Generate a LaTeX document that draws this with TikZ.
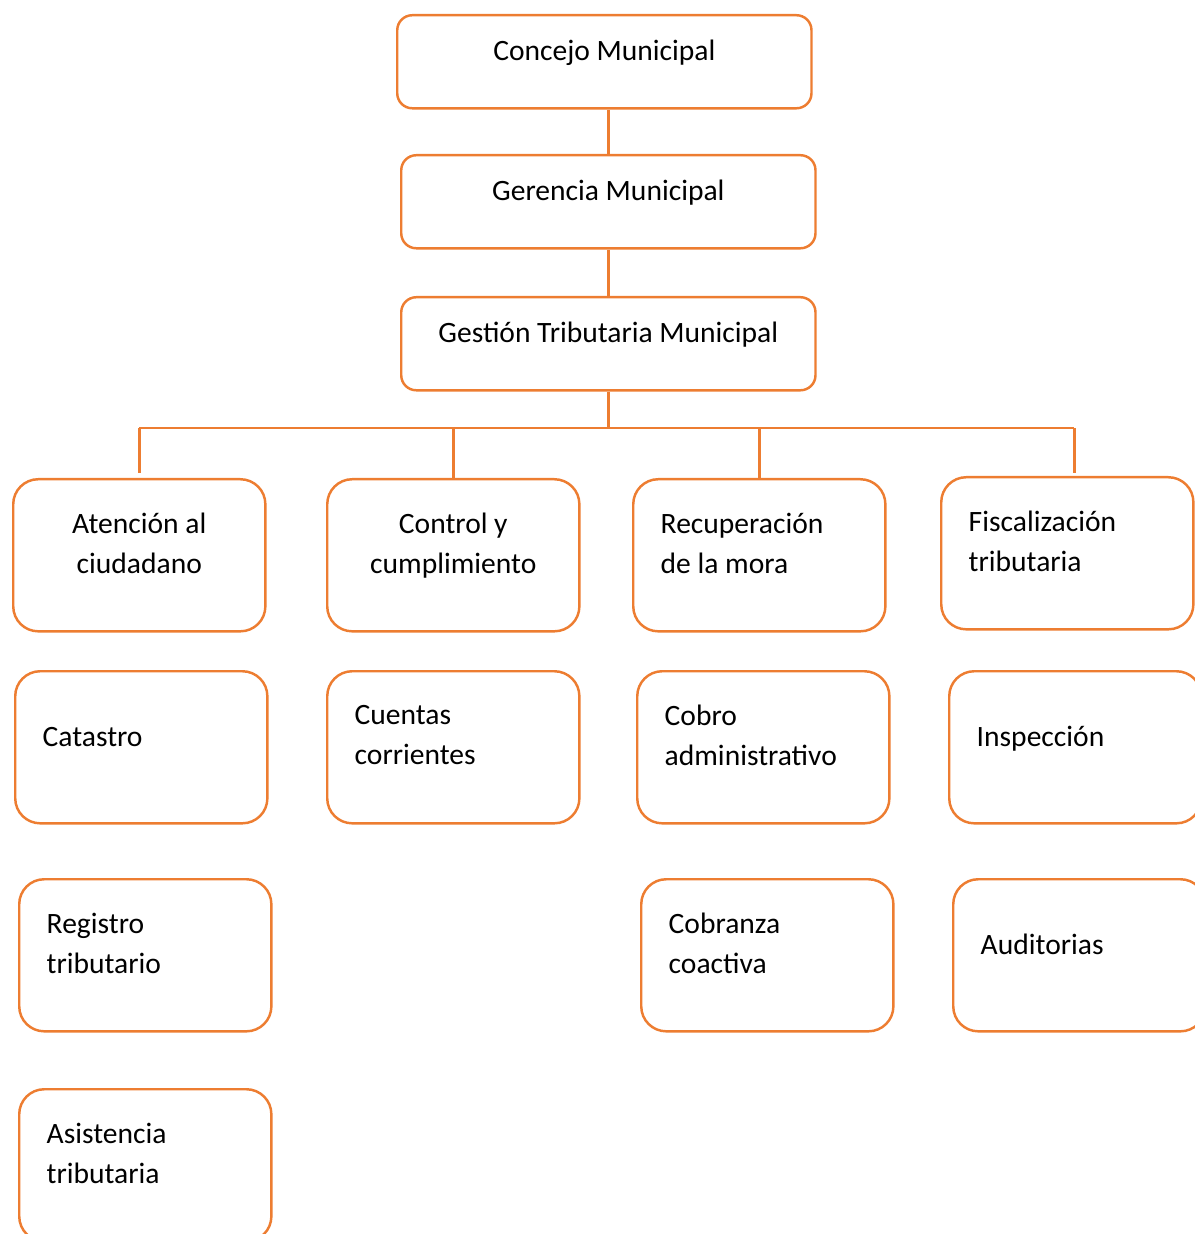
\documentclass[tikz,border=0pt]{standalone}
\usepackage{fontspec}
\setmainfont{Carlito}
\definecolor{orgline}{RGB}{237,125,49}

\begin{document}
\begin{tikzpicture}[x=0.01cm, y=-0.01cm,
  topbox/.style={draw=orgline, line width=0.7pt, rounded corners=0.15cm, minimum width=4.14cm, minimum height=0.93cm, anchor=north west, inner sep=0pt},
  unitbox/.style={draw=orgline, line width=0.7pt, rounded corners=0.25cm, minimum width=2.52cm, minimum height=1.52cm, anchor=north west, inner sep=0pt},
  link/.style={draw=orgline, line width=0.7pt},
  txt/.style={inner sep=0pt, font=\fontsize{8.4}{11.4}\selectfont, execute at begin node=\strut, execute at end node=\strut}]

\useasboundingbox (0,0) rectangle (1195,1234);

\def\txtup{0.09cm}
\def\twoup{0.06cm}
\def\txtin{0.28cm}

\node[topbox] (concejo) at (396,14) {};
\node[topbox] (gerencia) at (400,154) {};
\node[topbox] (gestion) at (400,296) {};

\node[unitbox] (atencion) at (12,478) {};
\node[unitbox] (control) at (326,478) {};
\node[unitbox] (recup) at (632,478) {};
\node[unitbox] (fiscal) at (940,476) {};

\node[unitbox] (catastro) at (14,670) {};
\node[unitbox] (cuentas) at (326,670) {};
\node[unitbox] (cobro) at (636,670) {};
\node[unitbox] (inspeccion) at (948,670) {};

\node[unitbox] (registro) at (18,878) {};
\node[unitbox] (cobranza) at (640,878) {};
\node[unitbox] (auditorias) at (952,878) {};

\node[unitbox] (asistencia) at (18,1088) {};

\node[txt] (concejoT) at ([yshift=\txtup]concejo.center) {Concejo Municipal};
\node[txt] (gerenciaT) at ([yshift=\txtup]gerencia.center) {Gerencia Municipal};
\node[txt] (gestionT) at ([yshift=\txtup]gestion.center) {Gestión Tributaria Municipal};

\node[txt, align=center] (atencionT) at ([yshift=\twoup]atencion.center) {Atención al\\ciudadano};
\node[txt, align=center] (controlT) at ([yshift=\twoup]control.center) {Control y\\cumplimiento};
\node[txt, align=left, anchor=west] (recupT) at ([xshift=\txtin, yshift=\twoup]recup.west) {Recuperación\\de la mora};
\node[txt, align=left, anchor=west] (fiscalT) at ([xshift=\txtin, yshift=\twoup]fiscal.west) {Fiscalización\\tributaria};

\node[txt, anchor=west] (catastroT) at ([xshift=\txtin, yshift=\txtup]catastro.west) {Catastro};
\node[txt, align=left, anchor=west] (cuentasT) at ([xshift=\txtin, yshift=\twoup]cuentas.west) {Cuentas\\corrientes};
\node[txt, align=left, anchor=west] (cobroT) at ([xshift=\txtin, yshift=\twoup]cobro.west) {Cobro\\administrativo};
\node[txt, anchor=west] (inspeccionT) at ([xshift=\txtin, yshift=\txtup]inspeccion.west) {Inspección};

\node[txt, align=left, anchor=west] (registroT) at ([xshift=\txtin, yshift=\twoup]registro.west) {Registro\\tributario};
\node[txt, align=left, anchor=west] (cobranzaT) at ([xshift=\txtin, yshift=\twoup]cobranza.west) {Cobranza\\coactiva};
\node[txt, anchor=west] (auditoriasT) at ([xshift=\txtin, yshift=\txtup]auditorias.west) {Auditorias};

\node[txt, align=left, anchor=west] (asistenciaT) at ([xshift=\txtin, yshift=\twoup]asistencia.west) {Asistencia\\tributaria};

\coordinate (bus) at (608,428);
\coordinate (atenciontop) at ([yshift=0.05cm]atencion.north);
\coordinate (fiscaltop) at ([xshift=0.07cm, yshift=0.03cm]fiscal.north);

\draw[link] (gerencia.north) -- (gerencia.north |- concejo.south);
\draw[link] (gestion.north) -- (gestion.north |- gerencia.south);
\draw[link] (gestion.south) -- (gestion.south |- bus);
\draw[link] (atenciontop |- bus) -- (fiscaltop |- bus);
\draw[link] (atenciontop |- bus) -- (atenciontop);
\draw[link] (control.north |- bus) -- (control.north);
\draw[link] (recup.north |- bus) -- (recup.north);
\draw[link] (fiscaltop |- bus) -- (fiscaltop);
\end{tikzpicture}
\end{document}
